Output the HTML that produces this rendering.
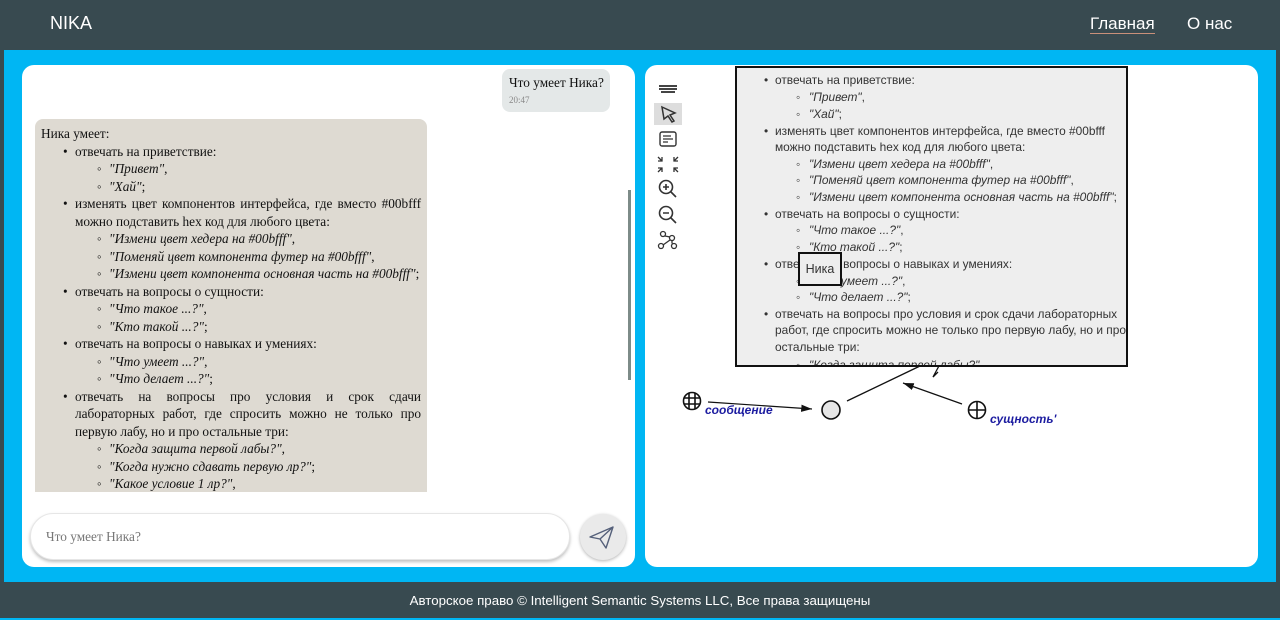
<!DOCTYPE html>
<html><head><meta charset="utf-8"><style>
*{margin:0;padding:0;box-sizing:border-box}
body{width:1280px;height:618px;overflow:hidden;background:#00b6f3;position:relative;font-family:"Liberation Sans",sans-serif}
.hdr{position:absolute;left:0;top:0;width:1280px;height:50px;background:#384a50}
.ftr{position:absolute;left:0;top:582px;width:1280px;height:36px;background:#384a50;color:#fff;font-size:13.3px;text-align:center;line-height:38px}
.edge{position:absolute;top:0;width:4px;height:618px;background:#384a50}
.panel{position:absolute;top:65px;height:502px;background:#fff;border-radius:12px}
.l{position:absolute;white-space:nowrap;line-height:18px}
.s{font-family:"Liberation Serif",serif;font-size:13.3px;color:#111}
.r{font-family:"Liberation Sans",sans-serif;font-size:11.9px;color:#333}
i{font-style:italic}
.j{text-align:justify;text-align-last:justify;white-space:normal}
</style></head><body>
<div class="hdr"></div>
<div class="edge" style="left:0"></div><div class="edge" style="left:1276px"></div>
<div style="position:absolute;left:50px;top:13px;color:#fff;font-size:18px">NIKA</div>
<div style="position:absolute;left:1090px;top:14px;color:#fff;font-size:17px;border-bottom:1px solid #c9907a;line-height:19px">Главная</div>
<div style="position:absolute;left:1187px;top:14px;color:#fff;font-size:17px;line-height:19px">О нас</div>

<div class="panel" style="left:22px;width:613px"></div>
<div class="panel" style="left:645px;width:613px"></div>

<div style="position:absolute;left:502px;top:69px;width:108px;height:43px;background:#e4e8e8;border-radius:8px"></div>
<div class="l s" style="left:509px;top:74px">Что умеет Ника?</div>
<div class="l" style="left:509px;top:91px;font-size:9px;color:#888;font-family:'Liberation Serif',serif">20:47</div>
<div style="position:absolute;left:628px;top:190px;width:3px;height:190px;background:#7d8b88"></div>

<div style="position:absolute;left:35px;top:119px;width:392px;height:373px;background:#dedad2;border-radius:8px 8px 0 0;overflow:hidden">
<div style="position:relative;left:-35px;top:-119px">
<div class="l s" style="left:41px;top:125px">Ника умеет:</div>
<div class="l s" style="left:63px;top:142.5px">•</div><div class="l s" style="left:75px;top:142.5px">отвечать на приветствие:</div>
<div class="l s" style="left:97px;top:160px">◦</div><div class="l s" style="left:109px;top:160px"><i>"Привет"</i>,</div>
<div class="l s" style="left:97px;top:177.5px">◦</div><div class="l s" style="left:109px;top:177.5px"><i>"Хай"</i>;</div>
<div class="l s" style="left:63px;top:195px">•</div><div class="l s j" style="left:75px;top:195px;width:346px">изменять цвет компонентов интерфейса, где вместо #00bfff</div>
<div class="l s" style="left:75px;top:212.5px">можно подставить hex код для любого цвета:</div>
<div class="l s" style="left:97px;top:230px">◦</div><div class="l s" style="left:109px;top:230px"><i>"Измени цвет хедера на #00bfff"</i>,</div>
<div class="l s" style="left:97px;top:247.5px">◦</div><div class="l s" style="left:109px;top:247.5px"><i>"Поменяй цвет компонента футер на #00bfff"</i>,</div>
<div class="l s" style="left:97px;top:265px">◦</div><div class="l s" style="left:109px;top:265px"><i>"Измени цвет компонента основная часть на #00bfff"</i>;</div>
<div class="l s" style="left:63px;top:282.5px">•</div><div class="l s" style="left:75px;top:282.5px">отвечать на вопросы о сущности:</div>
<div class="l s" style="left:97px;top:300px">◦</div><div class="l s" style="left:109px;top:300px"><i>"Что такое ...?"</i>,</div>
<div class="l s" style="left:97px;top:317.5px">◦</div><div class="l s" style="left:109px;top:317.5px"><i>"Кто такой ...?"</i>;</div>
<div class="l s" style="left:63px;top:335px">•</div><div class="l s" style="left:75px;top:335px">отвечать на вопросы о навыках и умениях:</div>
<div class="l s" style="left:97px;top:352.5px">◦</div><div class="l s" style="left:109px;top:352.5px"><i>"Что умеет ...?"</i>,</div>
<div class="l s" style="left:97px;top:370px">◦</div><div class="l s" style="left:109px;top:370px"><i>"Что делает ...?"</i>;</div>
<div class="l s" style="left:63px;top:387.5px">•</div><div class="l s j" style="left:75px;top:387.5px;width:346px">отвечать на вопросы про условия и срок сдачи</div>
<div class="l s j" style="left:75px;top:405px;width:346px">лабораторных работ, где спросить можно не только про</div>
<div class="l s" style="left:75px;top:422.5px">первую лабу, но и про остальные три:</div>
<div class="l s" style="left:97px;top:440px">◦</div><div class="l s" style="left:109px;top:440px"><i>"Когда защита первой лабы?"</i>,</div>
<div class="l s" style="left:97px;top:457.5px">◦</div><div class="l s" style="left:109px;top:457.5px"><i>"Когда нужно сдавать первую лр?"</i>;</div>
<div class="l s" style="left:97px;top:475px">◦</div><div class="l s" style="left:109px;top:475px"><i>"Какое условие 1 лр?"</i>,</div>
</div></div>

<div style="position:absolute;left:30px;top:513px;width:540px;height:47px;border-radius:24px;background:#fff;box-shadow:0 2px 3px rgba(0,0,0,.25);border:1px solid #e6e6e6"></div>
<div class="l s" style="left:46px;top:528px;color:#777;font-size:13.3px">Что умеет Ника?</div>
<div style="position:absolute;left:580px;top:514px;width:46px;height:46px;border-radius:50%;background:#eaeaea;box-shadow:0 1px 3px rgba(0,0,0,.3)"></div>
<svg style="position:absolute;left:587px;top:522px" width="30" height="30" viewBox="0 0 30 30"><path d="M3 15 L26 5 L19 26 L13 17 Z M13 17 L26 5" fill="none" stroke="#55607a" stroke-width="1.4" stroke-linejoin="round"/></svg>

<svg style="position:absolute;left:654px;top:80px" width="30" height="170" viewBox="0 0 30 170">
<g fill="#444"><rect x="5" y="5" width="18" height="2"/><rect x="5" y="8" width="18" height="2"/><rect x="7" y="11" width="14" height="2"/></g>
<rect x="0" y="23" width="28" height="22" fill="#ddd"/>
<path d="M8 27 L21 33 L16 35 L20 41 L18 42 L14 36 L10 39 Z" fill="none" stroke="#333" stroke-width="1.5"/>
<rect x="6" y="52" width="16" height="14" rx="2" fill="none" stroke="#333" stroke-width="1.4"/>
<path d="M9 56h8M9 59h10M9 62h5" stroke="#333" stroke-width="1.2"/>
<path d="M4 77l4 4M4 81h4v-4M24 77l-4 4M24 81h-4v-4M4 92l4-4M4 88h4v4M24 92l-4-4M24 88h-4v4" stroke="#333" stroke-width="1.3" fill="none"/>
<circle cx="12" cy="107" r="6.5" fill="none" stroke="#333" stroke-width="1.6"/><path d="M17 112l5 5M9 107h6M12 104v6" stroke="#333" stroke-width="1.6"/>
<circle cx="12" cy="133" r="6.5" fill="none" stroke="#333" stroke-width="1.6"/><path d="M17 138l5 5M9 133h6" stroke="#333" stroke-width="1.6"/>
<g fill="none" stroke="#333" stroke-width="1.3"><circle cx="9" cy="154" r="2.5"/><circle cx="18" cy="158" r="2.5"/><circle cx="7" cy="166" r="2.5"/><circle cx="20" cy="166" r="2.5"/><path d="M11 156l5 1M16 160l-7 5M18 160.5v3"/></g>
</svg>

<svg style="position:absolute;left:0;top:0" width="1280" height="618">
<defs><marker id="a" markerWidth="10" markerHeight="8" refX="9" refY="4" orient="auto"><path d="M0 1L9 4L0 7Z" fill="#111"/></marker></defs>
<line x1="708" y1="402" x2="812" y2="409" stroke="#111" stroke-width="1.2" marker-end="url(#a)"/>
<line x1="847" y1="401" x2="920" y2="366" stroke="#111" stroke-width="1.3"/>
<line x1="962" y1="404" x2="903" y2="383" stroke="#111" stroke-width="1.2" marker-end="url(#a)"/>
<path d="M940 364 L933 377 L938 372" fill="none" stroke="#111" stroke-width="1.3"/>
<circle cx="831" cy="410" r="9" fill="#e6e6e6" stroke="#111" stroke-width="1.6"/>
<g fill="none" stroke="#111" stroke-width="1.6"><circle cx="692" cy="401" r="8.5"/><path d="M684 398h16M684 404h16M689 393v16M695 393v16"/>
<circle cx="977" cy="410" r="8.5"/><path d="M969 410h16M977 402v16"/></g>
<text x="705" y="414" font-family="Liberation Sans" font-size="12" font-weight="bold" font-style="italic" fill="#1c1ca0">сообщение</text>
<text x="990" y="423" font-family="Liberation Sans" font-size="12" font-weight="bold" font-style="italic" fill="#1c1ca0">сущность'</text>
</svg>

<div style="position:absolute;left:735px;top:66px;width:393px;height:301px;background:#eee;border:2px solid #111;overflow:hidden">
<div style="position:relative;left:-737px;top:-68px">
<div class="l r" style="left:764px;top:71px">•</div><div class="l r" style="left:775px;top:71px">отвечать на приветствие:</div>
<div class="l r" style="left:796px;top:88px">◦</div><div class="l r" style="left:809px;top:88px"><i>"Привет"</i>,</div>
<div class="l r" style="left:796px;top:105px">◦</div><div class="l r" style="left:809px;top:105px"><i>"Хай"</i>;</div>
<div class="l r" style="left:764px;top:122px">•</div><div class="l r" style="left:775px;top:122px">изменять цвет компонентов интерфейса, где вместо #00bfff</div>
<div class="l r" style="left:775px;top:138px">можно подставить hex код для любого цвета:</div>
<div class="l r" style="left:796px;top:155px">◦</div><div class="l r" style="left:809px;top:155px"><i>"Измени цвет хедера на #00bfff"</i>,</div>
<div class="l r" style="left:796px;top:171px">◦</div><div class="l r" style="left:809px;top:171px"><i>"Поменяй цвет компонента футер на #00bfff"</i>,</div>
<div class="l r" style="left:796px;top:188px">◦</div><div class="l r" style="left:809px;top:188px"><i>"Измени цвет компонента основная часть на #00bfff"</i>;</div>
<div class="l r" style="left:764px;top:205px">•</div><div class="l r" style="left:775px;top:205px">отвечать на вопросы о сущности:</div>
<div class="l r" style="left:796px;top:221px">◦</div><div class="l r" style="left:809px;top:221px"><i>"Что такое ...?"</i>,</div>
<div class="l r" style="left:796px;top:238px">◦</div><div class="l r" style="left:809px;top:238px"><i>"Кто такой ...?"</i>;</div>
<div class="l r" style="left:764px;top:255px">•</div><div class="l r" style="left:775px;top:255px">отвечать на вопросы о навыках и умениях:</div>
<div class="l r" style="left:796px;top:272px">◦</div><div class="l r" style="left:809px;top:272px"><i>"Что умеет ...?"</i>,</div>
<div class="l r" style="left:796px;top:288px">◦</div><div class="l r" style="left:809px;top:288px"><i>"Что делает ...?"</i>;</div>
<div class="l r" style="left:764px;top:305px">•</div><div class="l r" style="left:775px;top:305px">отвечать на вопросы про условия и срок сдачи лабораторных</div>
<div class="l r" style="left:775px;top:321px">работ, где спросить можно не только про первую лабу, но и про</div>
<div class="l r" style="left:775px;top:338px">остальные три:</div>
<div class="l r" style="left:796px;top:356px">◦</div><div class="l r" style="left:809px;top:356px"><i>"Когда защита первой лабы?"</i>,</div>
</div></div>
<div style="position:absolute;left:798px;top:252px;width:44px;height:34px;border:2px solid #111;background:#eee;font-size:12.5px;color:#333;line-height:30px;text-align:center">Ника</div>

<div class="ftr">Авторское право © Intelligent Semantic Systems LLC, Все права защищены</div>
</body></html>
